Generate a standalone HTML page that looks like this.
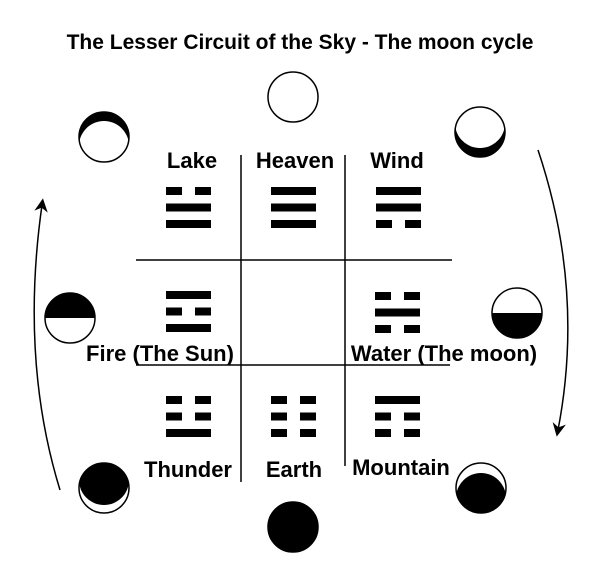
<!DOCTYPE html>
<html><head><meta charset="utf-8"><style>
html,body{margin:0;padding:0;background:#fff;}
svg{display:block;}
text{font-family:"Liberation Sans",sans-serif;font-weight:bold;fill:#000;}
</style></head><body>
<svg width="600" height="577" viewBox="0 0 600 577">
<defs>
<marker id="ah" viewBox="0 0 10 10" refX="5" refY="5" markerWidth="9" markerHeight="9" orient="auto-start-reverse"><path d="M0,0 L10,5 L0,10 L3,5 z" fill="#000"/></marker>
</defs>
<text x="300" y="49" font-size="21" text-anchor="middle">The Lesser Circuit of the Sky - The moon cycle</text>

<g stroke="#000" stroke-width="1.5">
<line x1="241" y1="155" x2="241" y2="482"/>
<line x1="345" y1="155" x2="345" y2="466"/>
<line x1="136" y1="260" x2="452" y2="260"/>
<line x1="136" y1="365" x2="450" y2="365"/>
</g>

<g id="tri"></g>

<g font-size="22" text-anchor="middle">
<text x="192" y="168">Lake</text>
<text x="295" y="168">Heaven</text>
<text x="397" y="168">Wind</text>
<text x="160" y="361">Fire (The Sun)</text>
<text x="444" y="361">Water (The moon)</text>
<text x="188" y="477">Thunder</text>
<text x="294" y="477">Earth</text>
<text x="401" y="475">Mountain</text>
</g>

<g id="moons"></g>

<path d="M60,490 Q20,360 42,205" fill="none" stroke="#000" stroke-width="1.5" marker-end="url(#ah)"/>
<path d="M538,150 Q585,290 558,430" fill="none" stroke="#000" stroke-width="1.5" marker-end="url(#ah)"/>
</svg>
<script>
const NS="http://www.w3.org/2000/svg";
const trigrams=[
 ["lake",166,187,[0,1,1]],["heaven",271,187,[1,1,1]],["wind",376,187,[1,1,0]],
 ["fire",166,291,[1,0,1]],["water",375,292,[0,1,0]],
 ["thunder",166,396,[0,0,1]],["earth",271,396,[0,0,0]],["mountain",375,396,[1,0,0]]
];
const tg=document.getElementById('tri');
trigrams.forEach(t=>{
 t[3].forEach((s,i)=>{
  const y=t[2]+i*16.5;
  const parts=s?[[0,45]]:[[0,16],[29,16]];
  parts.forEach(p=>{
   const r=document.createElementNS(NS,'rect');
   r.setAttribute('x',t[1]+p[0]);r.setAttribute('y',y);r.setAttribute('width',p[1]);r.setAttribute('height',8);
   r.setAttribute('fill','#000');
   
   
   tg.appendChild(r);
  });
 });
});
const moons=[
 ["top",293,97,"full"],["top-left",104,137,"capTop"],["left",70,318,"halfTop"],
 ["bottom-left",104,488,"mostTop"],["bottom",293,527,"new"],["bottom-right",481,488,"mostBottom"],
 ["right",517,313,"halfBottom"],["top-right",480,132,"capBottom"]
];
const mg=document.getElementById('moons');
moons.forEach((m,i)=>{
 const [n,cx,cy,type]=m,r=25;
 const g=document.createElementNS(NS,'g');
 
 
 const cp=document.createElementNS(NS,'clipPath');cp.setAttribute('id','c'+i);
 const cc=document.createElementNS(NS,'circle');cc.setAttribute('cx',cx);cc.setAttribute('cy',cy);cc.setAttribute('r',r);
 cp.appendChild(cc);g.appendChild(cp);
 let inner='';
 const clip=`clip-path="url(#c${i})"`;
 if(type==='full') inner=`<circle cx="${cx}" cy="${cy}" r="${r}" fill="#fff"/>`;
 else if(type==='new') inner=`<circle cx="${cx}" cy="${cy}" r="${r}" fill="#000"/>`;
 else if(type==='halfTop') inner=`<circle cx="${cx}" cy="${cy}" r="${r}" fill="#fff"/><rect x="${cx-r}" y="${cy-r}" width="${2*r}" height="${r}" fill="#000" ${clip}/>`;
 else if(type==='halfBottom') inner=`<circle cx="${cx}" cy="${cy}" r="${r}" fill="#fff"/><rect x="${cx-r}" y="${cy}" width="${2*r}" height="${r}" fill="#000" ${clip}/>`;
 else if(type==='capTop') inner=`<circle cx="${cx}" cy="${cy}" r="${r}" fill="#000"/><circle cx="${cx}" cy="${cy+9}" r="${r}" fill="#fff" ${clip}/>`;
 else if(type==='capBottom') inner=`<circle cx="${cx}" cy="${cy}" r="${r}" fill="#000"/><circle cx="${cx}" cy="${cy-9}" r="${r}" fill="#fff" ${clip}/>`;
 else if(type==='mostTop') inner=`<circle cx="${cx}" cy="${cy}" r="${r}" fill="#fff"/><circle cx="${cx}" cy="${cy-8}" r="${r}" fill="#000" ${clip}/>`;
 else if(type==='mostBottom') inner=`<circle cx="${cx}" cy="${cy}" r="${r}" fill="#fff"/><circle cx="${cx}" cy="${cy+10}" r="${r}" fill="#000" ${clip}/>`;
 inner+=`<circle cx="${cx}" cy="${cy}" r="${r}" fill="none" stroke="#000" stroke-width="1.5"/>`;
 g.insertAdjacentHTML('beforeend',inner);
 mg.appendChild(g);
});
</script>
</body></html>
